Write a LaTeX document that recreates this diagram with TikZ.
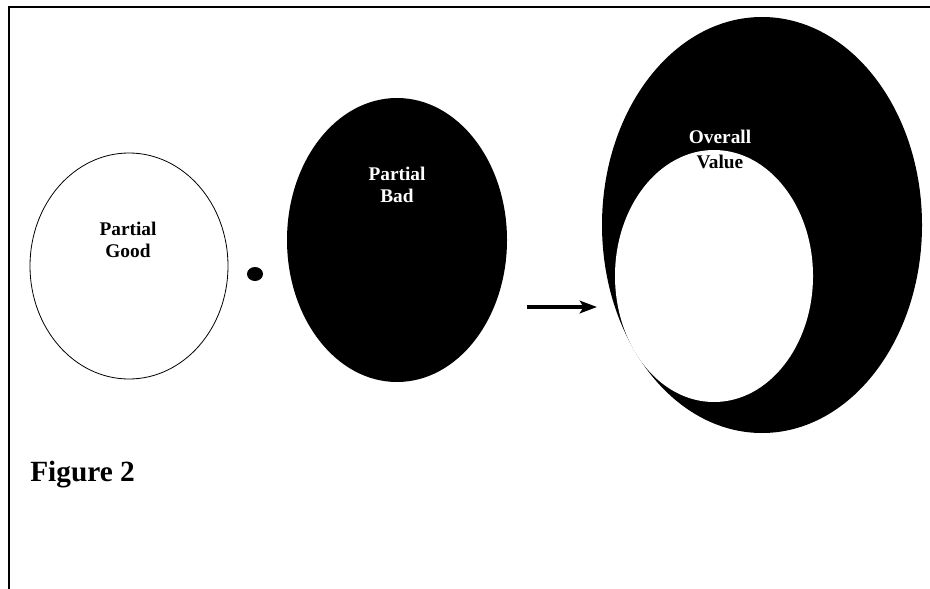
\documentclass[tikz,border=0pt]{standalone}
\usepackage{fontspec}
\setmainfont{Liberation Serif}
\usepackage{tikz}
\usetikzlibrary{shapes,arrows.meta}
\tikzset{
  blob/.style={ellipse, inner sep=0pt, outer sep=0pt},
  lbl/.style={align=center, font=\bfseries\fontsize{14.5}{16}\selectfont, inner sep=0pt}
}
\newcommand{\valueblob}[5] {\node at (#1) (#2) [blob, minimum width=#3, minimum height=#4, #5] {};}
\newcommand{\valuelabel}[4] {\node at (#1) (#2) [lbl, #4] {#3};}

\begin{document}
\begin{tikzpicture}[x=0.75pt, y=-0.75pt]
\useasboundingbox (0,0) rectangle (930,588);
\draw [line width=1.1pt] (9,600) -- (9,7) -- (940,7);
\valueblob{129,266}{good}{148.5pt}{169.5pt}{draw, line width=0.6pt, fill=white}
\valueblob{255,274}{dot}{12pt}{10.5pt}{fill=black}
\valueblob{397,240}{bad}{165pt}{213pt}{fill=black}
\valueblob{762,225}{overall}{240pt}{312pt}{fill=black}
\valueblob{714,276}{hole}{148.5pt}{189pt}{fill=white}
\valuelabel{128,240}{goodtext}{Partial\\Good}{}
\valuelabel{397,185}{badtext}{Partial\\Bad}{text=white}
\valuelabel{720,137}{overalltext}{Overall}{text=white}
\valuelabel{720,162}{valuetext}{Value}{text=black}
\coordinate (arrowstart) at (527,307);
\coordinate (arrowend) at (597,307);
\draw [line width=2.4pt, -{Stealth[length=13pt, width=9.5pt, inset=3pt]}] (arrowstart) -- (arrowend);
\node at (30,475) (caption) [anchor=west, inner sep=0pt, font=\bfseries\fontsize{22}{26}\selectfont] {Figure 2};
\end{tikzpicture}
\end{document}
